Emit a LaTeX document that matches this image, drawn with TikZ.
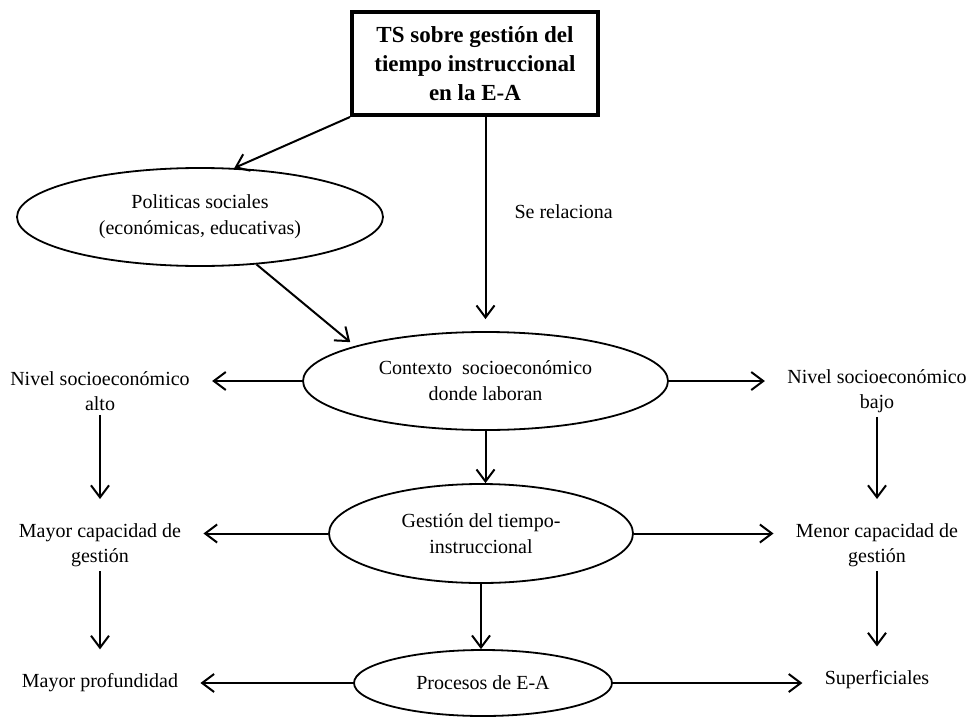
\documentclass[tikz,border=0pt]{standalone}
\usepackage{fontspec}
\setmainfont{Liberation Serif}
\usetikzlibrary{arrows.meta,shapes.geometric}
\tikzset{
  titulo/.style={draw,line width=2pt,align=center,minimum width=123pt,minimum height=51.5pt,inner sep=0pt,font=\fontsize{11.5}{14.5}\selectfont\bfseries},
  elipse/.style={draw,ellipse,line width=0.9pt,align=center,inner sep=0pt,font=\fontsize{10}{13}\selectfont},
  rotulo/.style={align=center,inner xsep=11pt,inner ysep=2pt,font=\fontsize{10}{12.5}\selectfont},
  arr/.style={-{Straight Barb[length=6pt,width=9pt]},line width=1pt}
}
\begin{document}
\begin{tikzpicture}[x=0.5pt,y=-0.5pt]
        \useasboundingbox (0,0) rectangle (967,717);
        \node[titulo] (ts) at (475,63.5) {TS sobre gestión del\\tiempo instruccional\\en la E-A};
        \node[elipse,minimum width=183pt,minimum height=49pt] (pol) at (200,217) {Politicas sociales\\(económicas, educativas)};
        \node[elipse,minimum width=182.5pt,minimum height=49pt] (ctx) at (485.5,381) {Contexto\ \ socioeconómico\\donde laboran};
        \node[elipse,minimum width=152pt,minimum height=49.5pt] (gest) at (481,533.5) {Gestión del tiempo-\\instruccional};
        \node[elipse,minimum width=129pt,minimum height=33pt] (proc) at (483,683) {Procesos de E-A};
        \node[rotulo] (nivAlto) at (100,391) {Nivel socioeconómico\\alto};
        \node[rotulo] (capMayor) at (100,545) {Mayor capacidad de\\gestión};
        \node[rotulo] (profMayor) at (100,683) {Mayor profundidad};
        \node[rotulo] (nivBajo) at (877,391) {Nivel socioeconómico\\bajo};
        \node[rotulo] (capMenor) at (877,545) {Menor capacidad de\\gestión};
        \node[rotulo] (superf) at (877,680) {Superficiales};
        \draw[arr] (ts.south west) -- (pol.55);
        \draw[arr,shorten >=6pt] (ts.south -| ctx.north) -- node[pos=.44,right=14pt,rotulo,inner xsep=0pt] (rel) {Se relaciona} (ctx.north);
        \draw[arr,shorten >=3pt] (pol.-40) -- (ctx.165);
        \draw[arr] (ctx.west) -- (ctx.west -| nivAlto.east);
        \draw[arr] (ctx.east) -- (ctx.east -| nivBajo.west);
        \draw[arr] (ctx.south) -- (ctx.south |- gest.north);
        \draw[arr] (gest.west) -- (gest.west -| capMayor.east);
        \draw[arr] (gest.east) -- (gest.east -| capMenor.west);
        \draw[arr] (gest.south) -- (gest.south |- proc.north);
        \draw[arr] (proc.west) -- (proc.west -| profMayor.east);
        \draw[arr] (proc.east) -- (proc.east -| superf.west);
        \draw[arr,shorten >=10pt] (nivAlto.south) -- (capMayor.north);
        \draw[arr,shorten >=10pt] (capMayor.south) -- (profMayor.north);
        \draw[arr,shorten >=10pt] (nivBajo.south) -- (capMenor.north);
        \draw[arr,shorten >=10pt] (capMenor.south) -- (capMenor.south |- superf.north);
\end{tikzpicture}
\end{document}
